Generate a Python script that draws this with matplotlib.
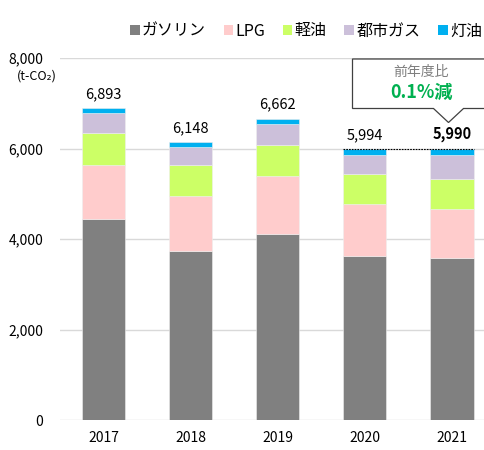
import matplotlib
matplotlib.use("Agg")
import matplotlib.pyplot as plt
from matplotlib.patches import Patch, Polygon
import numpy as np

plt.rcParams['font.family'] = ['Noto Sans CJK JP', 'DejaVu Sans']

years = ["2017", "2018", "2019", "2020", "2021"]
series_names = ["ガソリン", "LPG", "軽油", "都市ガス", "灯油"]
gasoline = [4440, 3740, 4120, 3625, 3580]
lpg = [1195, 1218, 1265, 1142, 1090]
light_oil = [710, 677, 686, 677, 656]
city_gas = [435, 398, 477, 420, 538]
kerosene = [113, 115, 114, 130, 126]
totals = [6893, 6148, 6662, 5994, 5990]
total_labels = ["6,893", "6,148", "6,662", "5,994", "5,990"]
yticks = [0, 2000, 4000, 6000, 8000]
ytick_labels = ["0", "2,000", "4,000", "6,000", "8,000"]
colors = ["#808080", "#FFCCCC", "#CCFF66", "#CCC0DA", "#00B0F0"]

fig = plt.figure(figsize=(4.84, 4.5), dpi=100)
ax = fig.add_axes([60/484, 30/450, 1 - 60/484, 362/450])

x = np.arange(len(years))
bottom = np.zeros(len(years))
for vals, c in zip([gasoline, lpg, light_oil, city_gas, kerosene], colors):
    ax.bar(x, vals, width=0.5, bottom=bottom, color=c, edgecolor='#EEEEEE',
           linewidth=0.4, zorder=3)
    bottom += np.array(vals)

ax.set_ylim(0, 8000)
ax.set_xlim(-0.5, 4.37)
ax.set_yticks(yticks)
ax.set_yticklabels(ytick_labels, fontsize=10)
ax.set_xticks(x)
ax.set_xticklabels(years, fontsize=10)
ax.tick_params(axis='both', length=0, pad=8, colors='black')
ax.tick_params(axis='y', pad=12)
ax.grid(axis='y', color='#D9D9D9', linewidth=1.0, zorder=0)
for s in ax.spines.values():
    s.set_visible(False)

for i, (t, lab) in enumerate(zip(totals, total_labels)):
    ax.text(x[i], t + 150, lab, ha='center', va='bottom', fontsize=10.5,
            fontweight='bold' if i == 4 else 'normal', zorder=5)

# dotted comparison line
ax.plot([x[3] - 0.25, x[4] + 0.25], [totals[3], totals[3]], color='black',
        linestyle=(0, (1.5, 1)), linewidth=0.8, zorder=6)

# unit label
fig.text(57/484, 1 - 76/450, "(t-CO₂)", ha='right', va='center', fontsize=9)

# callout
def px(xp, yp):
    return (xp / 484, 1 - yp / 450)
pts = [px(352.5, 59), px(490, 59), px(490, 108.5), px(463.5, 108.5),
       px(448.5, 122.5), px(433.5, 108.5), px(352.5, 108.5)]
poly = Polygon(pts, closed=True, facecolor='white', edgecolor='#404040',
               linewidth=0.9, transform=fig.transFigure, zorder=10)
fig.add_artist(poly)
fig.text(421/484, 1 - 72/450, "前年度比", ha='center', va='center',
         fontsize=10, color='#7F7F7F', zorder=11)
fig.text(421/484, 1 - 92/450, "0.1%減", ha='center', va='center',
         fontsize=13, color='#00B050', fontweight='bold', zorder=11)

handles = [Patch(facecolor=c, edgecolor='none') for c in colors]
fig.legend(handles, series_names, loc='center', bbox_to_anchor=(306/484, 1 - 31/450),
           ncol=5, frameon=False, fontsize=11.5, handlelength=0.6, handleheight=0.6,
           handletextpad=0.15, columnspacing=1.1, borderaxespad=0)

fig.savefig("out.png", dpi=100)
